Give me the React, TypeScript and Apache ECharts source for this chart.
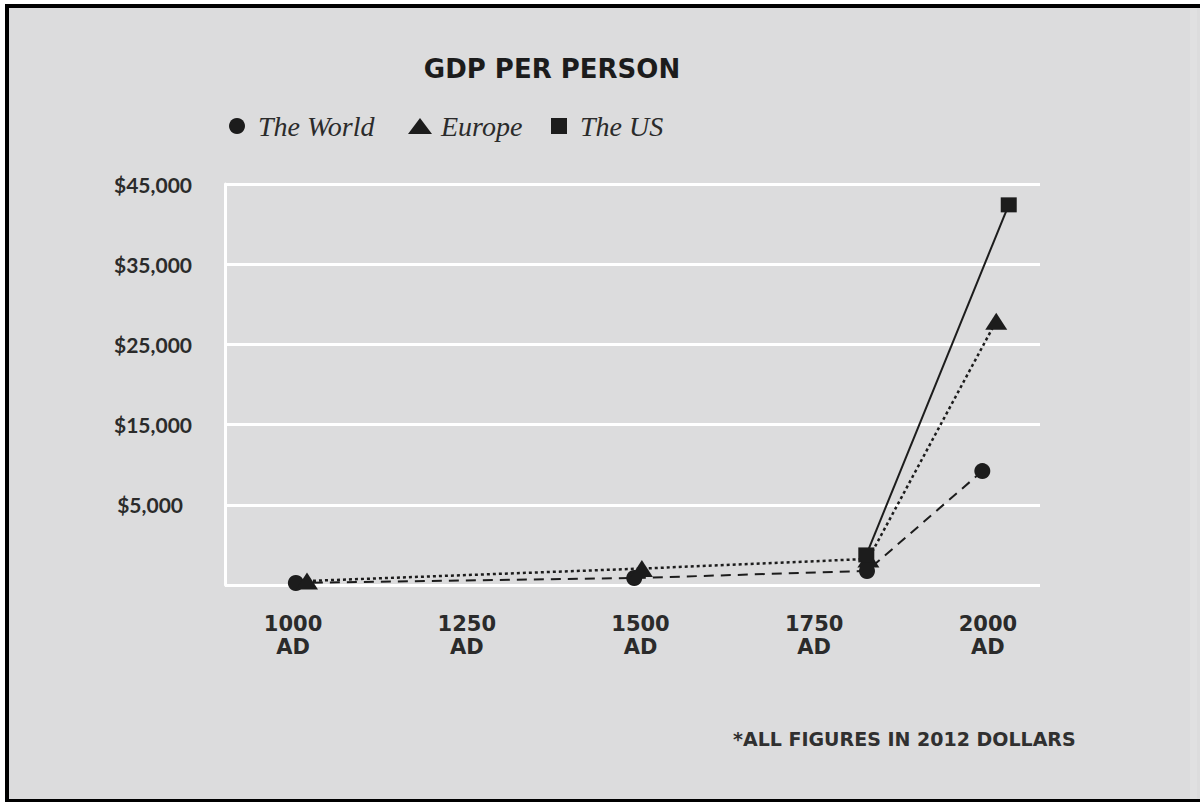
import { useEffect, useRef } from 'react';
import * as echarts from 'echarts';

// Axis ticks
const yearTicks = [1000, 1250, 1500, 1750, 2000];
const gdpTickStep = 10000;

// Series: [year, GDP per person]
const worldYears = [1004, 1491, 1826, 1992];
const worldGdp = [-4750, -4130, -3250, 9200];
const europeYears = [1020, 1502, 1828, 2012];
const europeGdp = [-4500, -2950, -1750, 27900];
const usYears = [1825, 2030];
const usGdp = [-1250, 42400];

const pair = (xs: number[], ys: number[]) => xs.map((x, i) => [x, ys[i]]);

const INK = '#1c1c1c';
const LABEL_INK = '#2b2b2b';
const PANEL = '#dcdcdd';

const money = (v: number) => '$' + Math.round(v).toLocaleString('en-US');

export default function App() {
  const ref = useRef<HTMLDivElement>(null);

  useEffect(() => {
    if (!ref.current) return;
    const chart = echarts.init(ref.current, null, { renderer: 'svg' });

    const legendText = {
      fontFamily: 'Liberation Serif',
      fontStyle: 'italic',
      fontSize: 28,
      color: LABEL_INK,
      padding: [0, 0, 0, 4],
    };
    const legendBase = {
      orient: 'horizontal',
      top: 112,
      padding: 0,
      itemWidth: 24,
      itemHeight: 16,
      selectedMode: false,
      textStyle: legendText,
    };

    chart.setOption({
      animation: false,
      backgroundColor: '#ffffff',
      graphic: [
        { type: 'rect', z: -100, silent: true, shape: { x: 5, y: 4, width: 1195, height: 798 }, style: { fill: '#000000' } },
        { type: 'rect', z: -99, silent: true, shape: { x: 9, y: 8, width: 1191, height: 791 }, style: { fill: PANEL } },
        { type: 'rect', z: -98, silent: true, shape: { x: 1190, y: 8, width: 7, height: 791 }, style: { fill: '#e0e0e1' } },
        {
          type: 'text',
          x: 552,
          y: 69,
          silent: true,
          style: {
            text: 'GDP PER PERSON',
            fontFamily: 'DejaVu Sans',
            fontWeight: 'bold',
            fontSize: 26,
            fill: INK,
            textAlign: 'center',
            textVerticalAlign: 'middle',
          },
        },
        {
          type: 'text',
          x: 733,
          y: 739,
          silent: true,
          style: {
            text: '*ALL FIGURES IN 2012 DOLLARS',
            fontFamily: 'DejaVu Sans',
            fontWeight: 'bold',
            fontSize: 19,
            fill: '#303030',
            textAlign: 'left',
            textVerticalAlign: 'middle',
          },
        },
      ],
      legend: [
        { ...legendBase, left: 229, data: [{ name: 'The World', icon: 'circle' }] },
        { ...legendBase, left: 408, data: [{ name: 'Europe', icon: 'triangle' }] },
        { ...legendBase, left: 551, data: [{ name: 'The US', icon: 'path://M0,0L10,0L10,10L0,10Z' }] },
      ],
      grid: { left: 225, right: 160, top: 184, bottom: 217 },
      xAxis: {
        type: 'value',
        min: 902,
        max: 2075,
        axisLine: { show: false },
        axisTick: { show: false },
        splitLine: { show: false },
        axisLabel: {
          customValues: yearTicks,
          formatter: (v: number) => `${v}\nAD`,
          margin: 27,
          fontFamily: 'DejaVu Sans',
          fontWeight: 'bold',
          fontSize: 21,
          lineHeight: 23,
          color: LABEL_INK,
        },
      },
      yAxis: {
        type: 'value',
        min: -5000,
        max: 45000,
        interval: gdpTickStep,
        axisLine: { show: true, lineStyle: { color: '#ffffff', width: 3 } },
        axisTick: { show: false },
        splitLine: { show: true, lineStyle: { color: '#ffffff', width: 3 } },
        axisLabel: {
          showMinLabel: false,
          margin: 33,
          fontFamily: 'Lato',
          fontWeight: 'bold',
          fontSize: 21,
          color: LABEL_INK,
          formatter: (v: number) => (v === 5000 ? `{narrow|${money(v)}}` : money(v)),
          rich: {
            narrow: {
              fontFamily: 'Lato',
              fontWeight: 'bold',
              fontSize: 21,
              color: LABEL_INK,
              padding: [0, 9, 0, 0],
            },
          },
        },
      },
      series: [
        {
          name: 'The World',
          type: 'line',
          data: pair(worldYears, worldGdp),
          symbol: 'circle',
          symbolSize: 16,
          itemStyle: { color: INK },
          lineStyle: { color: INK, width: 2, type: [10, 7] },
          z: 3,
        },
        {
          name: 'Europe',
          type: 'line',
          data: pair(europeYears, europeGdp),
          symbol: 'triangle',
          symbolSize: [22, 17],
          itemStyle: { color: INK },
          lineStyle: { color: INK, width: 2.5, type: [3, 3] },
          z: 4,
        },
        {
          name: 'The US',
          type: 'line',
          data: pair(usYears, usGdp),
          symbol: 'rect',
          symbolSize: [16, 15],
          itemStyle: { color: INK },
          lineStyle: { color: INK, width: 2, type: 'solid' },
          z: 5,
        },
      ],
    });

    return () => chart.dispose();
  }, []);

  return (
    <div
      ref={ref}
      style={{ position: 'fixed', left: 0, top: 0, width: 1200, height: 802 }}
    />
  );
}
